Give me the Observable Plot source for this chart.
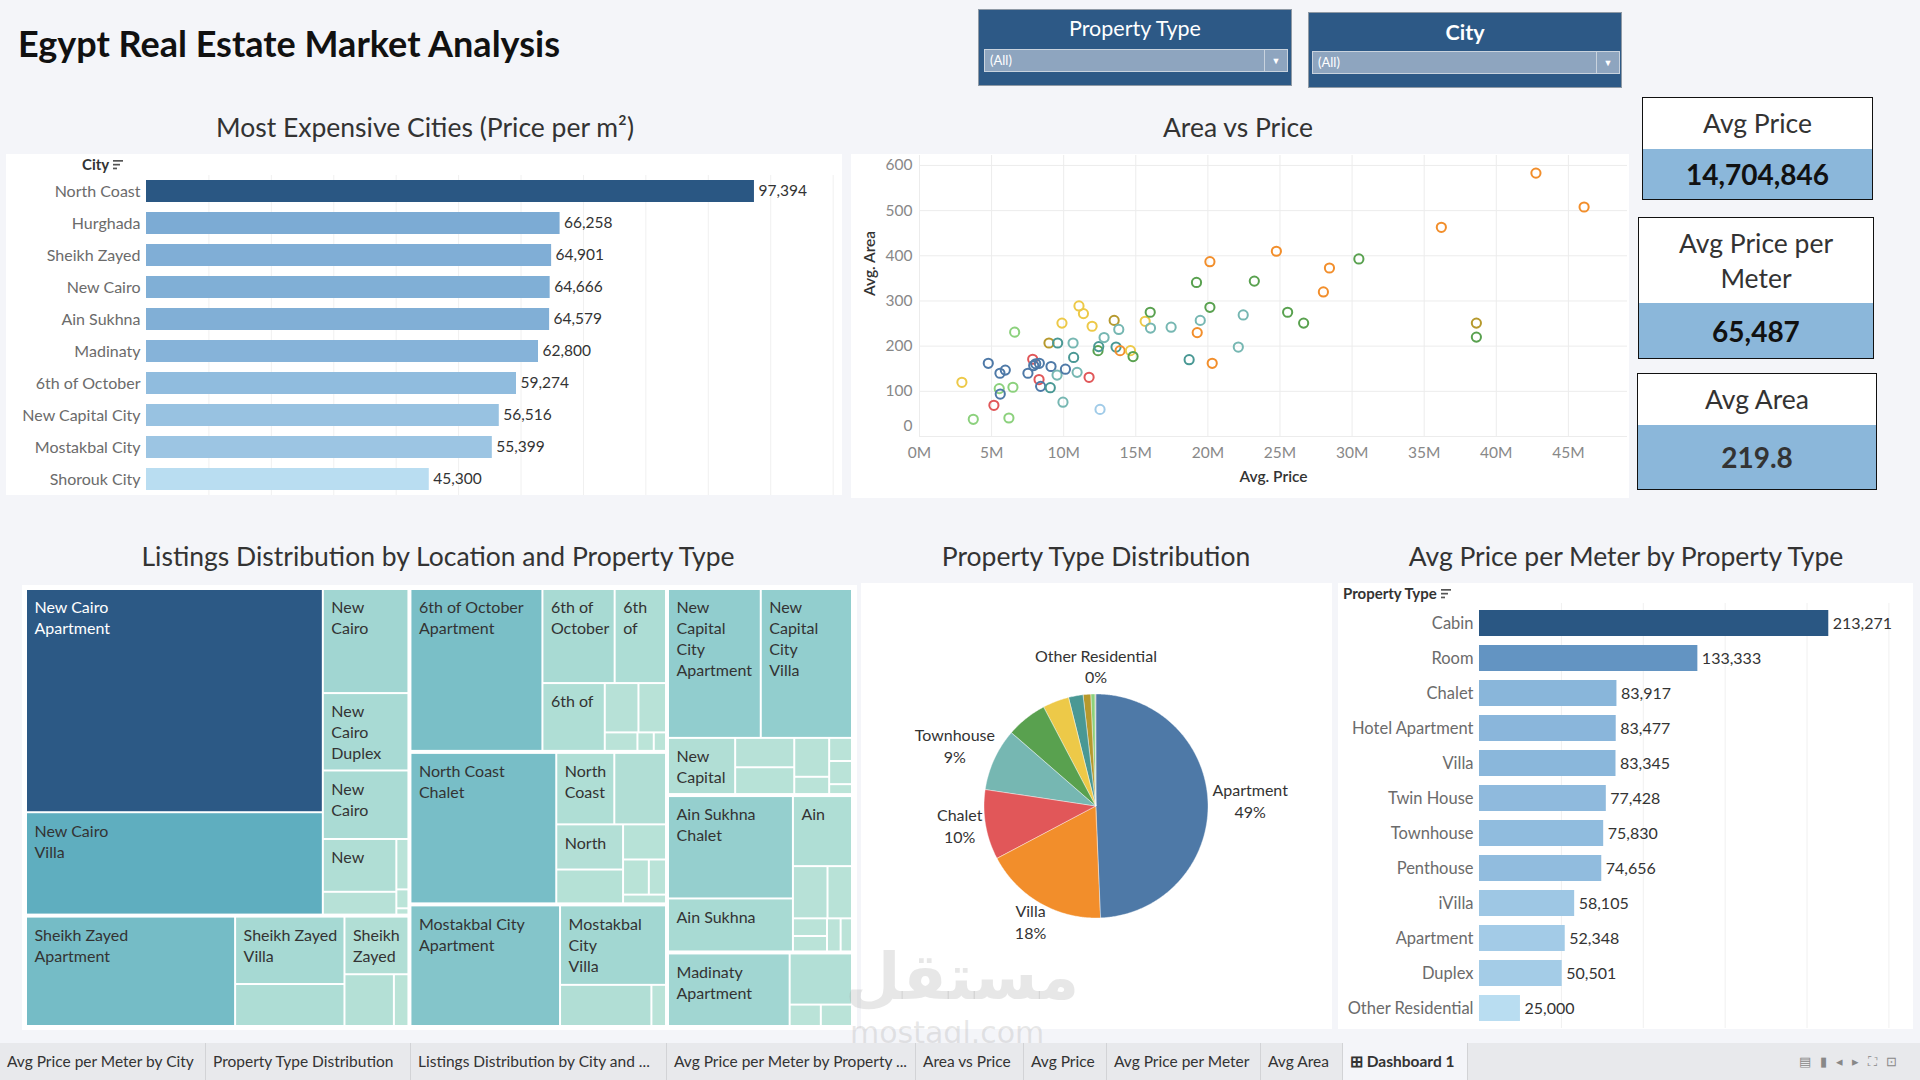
<!DOCTYPE html>
<html>
<head>
<meta charset="utf-8">
<script src="https://cdn.jsdelivr.net/npm/d3@7"></script>
<script src="https://cdn.jsdelivr.net/npm/@observablehq/plot@0.6"></script>
<style>
  html,body{margin:0;padding:0;background:#f4f5f9;}
  #root{position:relative;width:1920px;height:1080px;overflow:hidden;background:#f4f5f9;font-family:Lato,"Open Sans",sans-serif;color:#333;}
  .panel{position:absolute;background:#fff;}
  .panel svg{display:block;}
  .ptitle{position:absolute;font-size:26.5px;color:#333;white-space:nowrap;transform:translate(-50%,-50%);}
  .hdr{position:absolute;font-size:15px;color:#333;font-weight:700;display:flex;align-items:center;gap:4px;transform:translateY(-50%);}
  .filter{position:absolute;background:#2d5986;border:1px solid #8f9aa6;box-sizing:border-box;}
  .filter .ft{position:absolute;left:0;right:0;text-align:center;color:#fff;font-size:21.5px;transform:translateY(-50%);}
  .filter .dd{position:absolute;background:#8ea5bf;border:1px solid #c9d3de;box-sizing:border-box;color:#fff;font-size:13px;line-height:21px;padding-left:5px;}
  .filter .arr{position:absolute;right:0;top:0;bottom:0;width:22px;border-left:1px solid #c9d3de;text-align:center;font-size:9px;line-height:21px;}
  .kpi{position:absolute;border:1.5px solid #111;box-sizing:border-box;background:#fff;display:flex;flex-direction:column;}
  .kpi .kh{display:flex;align-items:center;justify-content:center;text-align:center;font-size:26.5px;color:#333;line-height:35px;}
  .kpi .kh span{max-width:190px;}
  .kpi .kv{display:flex;align-items:center;justify-content:center;background:#8bb7da;font-size:28px;font-weight:700;color:#111;flex:1;}
  .tabs{position:absolute;left:0;top:1043px;width:1920px;height:37px;background:#e8e9ec;display:flex;}
  .tab{height:37px;line-height:37px;font-size:15.5px;color:#333;padding-left:7px;box-sizing:border-box;border-right:1px solid #d2d3d6;white-space:nowrap;overflow:hidden;}
  .tab.active{background:#f4f5f9;font-weight:700;}
</style>
</head>
<body>
<div id="root"></div>
<script>
// ---------------- DATA ----------------
const cities = ["North Coast","Hurghada","Sheikh Zayed","New Cairo","Ain Sukhna","Madinaty","6th of October","New Capital City","Mostakbal City","Shorouk City"];
const cityPricePerM2 = [97394,66258,64901,64666,64579,62800,59274,56516,55399,45300];

const propTypes = ["Cabin","Room","Chalet","Hotel Apartment","Villa","Twin House","Townhouse","Penthouse","iVilla","Apartment","Duplex","Other Residential"];
const propPricePerM2 = [213271,133333,83917,83477,83345,77428,75830,74656,58105,52348,50501,25000];

const kpiLabels = ["Avg Price","Avg Price per Meter","Avg Area"];
const kpiValues = ["14,704,846","65,487","219.8"];

const typeNames  = ["Apartment","Villa","Chalet","Townhouse","Twin House","Duplex","Penthouse","iVilla","Hotel Apartment","Cabin","Room","Other Residential"];
const typeColors = ["#4e79a7","#f28e2b","#e15759","#76b7b2","#59a14f","#edc948","#499894","#b6992d","#8cd17d","#a0cbe8","#ff9d9a","#bab0ac"];

const pieTypes  = ["Apartment","Villa","Chalet","Townhouse","Twin House","Duplex","Penthouse","iVilla","Hotel Apartment","Other Residential"];
const pieShares = [49.4,17.9,10.1,9.0,5.9,3.8,2.1,1.1,0.6,0.1];
const pieLabelled = ["Apartment","Villa","Chalet","Townhouse","Other Residential"];

const scatterPriceM = [2.94,3.73,4.77,5.16,5.53,5.58,5.60,5.95,6.20,6.48,
 6.60,7.52,7.85,7.92,8.06,8.31,8.29,8.40,8.98,9.07,
 9.12,9.54,9.58,9.88,9.95,10.12,10.65,10.69,10.93,11.06,
 11.37,11.76,11.97,12.38,12.43,12.52,12.80,13.50,13.63,13.82,
 13.91,14.63,14.81,15.65,16.00,16.02,17.45,18.70,19.21,19.26,
 19.47,20.14,20.14,20.30,22.11,22.45,23.22,24.75,25.53,26.64,
 28.01,28.43,30.47,36.19,38.62,38.62,42.75,46.09];
const scatterArea = [120,38,162,69,106,140,94,147,41,109,
 231,140,171,157,161,162,126,111,207,108,
 155,136,207,251,76,149,207,175,142,289,
 272,131,244,190,199,60,219,257,198,237,
 190,190,177,255,275,240,242,170,341,230,
 257,387,286,162,198,269,344,410,275,251,
 320,373,393,463,251,220,583,508];
const scatterType = ["Duplex","Hotel Apartment","Apartment","Chalet","Hotel Apartment","Apartment","Apartment","Apartment","Hotel Apartment","Hotel Apartment",
 "Hotel Apartment","Apartment","Chalet","Apartment","Apartment","Apartment","Chalet","Apartment","iVilla","Penthouse",
 "Apartment","Townhouse","Penthouse","Duplex","Townhouse","Apartment","Townhouse","Penthouse","Townhouse","Duplex",
 "Duplex","Chalet","Duplex","Twin House","Penthouse","Cabin","Townhouse","iVilla","Penthouse","Townhouse",
 "Villa","Duplex","Twin House","Duplex","Twin House","Townhouse","Townhouse","Penthouse","Twin House","Villa",
 "Townhouse","Villa","Twin House","Villa","Townhouse","Townhouse","Twin House","Villa","Twin House","Twin House",
 "Villa","Villa","Twin House","Villa","iVilla","Twin House","Villa","Villa"];
const scatterXTicks = [0,5,10,15,20,25,30,35,40,45];
const scatterYTicks = [0,100,200,300,400,500,600];

const treeCities = ["New Cairo","Sheikh Zayed","6th of October","North Coast","Mostakbal City","New Capital City","Ain Sukhna","Madinaty"];
const treeTypes = [
  ["Apartment","Villa","Townhouse","Duplex","Penthouse","Chalet","iVilla","Twin House","Hotel Apartment","Cabin"],
  ["Apartment","Villa","Townhouse","Twin House","Duplex","Penthouse"],
  ["Apartment","Townhouse","Villa","Duplex","Penthouse","Twin House","iVilla","Chalet","Hotel Apartment"],
  ["Chalet","Villa","Townhouse","Apartment","Twin House","Duplex","Penthouse","iVilla","Cabin"],
  ["Apartment","Villa","Townhouse","Duplex"],
  ["Apartment","Villa","Duplex","Townhouse","Penthouse","Twin House","Chalet","iVilla","Hotel Apartment","Cabin"],
  ["Chalet","Apartment","Villa","Townhouse","Twin House","Duplex","Penthouse","iVilla","Cabin"],
  ["Apartment","Villa","Twin House","Duplex"]
];
const treeCounts = [
  [870,399,117,87,77,51,22,8,3,1],
  [304,98,61,49,34,10],
  [283,90,64,56,22,18,8,4,3],
  [291,55,49,40,30,20,12,8,5],
  [240,112,50,8],
  [183,180,50,23,21,18,8,7,7,3],
  [170,88,55,24,17,8,7,6,5],
  [119,43,9,9]
];
const blueTeal = ["#bce4d8","#a6d9d3","#8fcccd","#78bec7","#62b0c0","#4ca2b9","#3c91ae","#357fa0","#316c93","#2c5985"];
const blueSeq = ["#b9ddf1","#6d9fcd","#2a5783"];

const tabNames = ["Avg Price per Meter by City","Property Type Distribution","Listings Distribution by City and ...","Avg Price per Meter by Property ...","Area vs Price","Avg Price","Avg Price per Meter","Avg Area","Dashboard 1"];
const tabWidths = [206,205,256,249,108,83,154,82,125];

// ---------------- HELPERS ----------------
const root = document.getElementById("root");
const fmt = d3.format(",");
function el(tag, cls, style, html) {
  const e = document.createElement(tag);
  if (cls) e.className = cls;
  if (style) e.style.cssText = style;
  if (html !== undefined) e.innerHTML = html;
  root.appendChild(e);
  return e;
}
const sortIcon = '<svg width="11" height="11"><rect x="0" y="1" width="10" height="1.7" fill="#555"/><rect x="0" y="4.8" width="7" height="1.7" fill="#555"/><rect x="0" y="8.6" width="4" height="1.7" fill="#555"/></svg>';
const plotStyle = {fontFamily: "Lato, 'Open Sans', sans-serif", fontSize: "15.5px", background: "transparent", overflow: "visible"};

// ---------------- HEADER ----------------
el("div", null, "position:absolute;left:18px;top:43px;transform:translateY(-50%);font-size:36px;font-weight:700;color:#111;white-space:nowrap;", "Egypt Real Estate Market Analysis");

const f1 = el("div", "filter", "left:978px;top:9px;width:314px;height:77px;");
f1.innerHTML = '<div class="ft" style="top:18px;">Property Type</div><div class="dd" style="left:5px;top:39px;width:304px;height:23px;">(All)<div class="arr">&#9660;</div></div>';
const f2 = el("div", "filter", "left:1308px;top:12px;width:314px;height:76px;");
f2.innerHTML = '<div class="ft" style="top:19px;font-weight:700;">City</div><div class="dd" style="left:3px;top:38px;width:308px;height:23px;">(All)<div class="arr">&#9660;</div></div>';

const kpiBoxes = [
  {left:1642, top:97, w:231, h:103, hh:51},
  {left:1638, top:217, w:236, h:142, hh:85},
  {left:1637, top:373, w:240, h:117, hh:51}
];
kpiLabels.forEach((lab, i) => {
  const b = kpiBoxes[i];
  const k = el("div", "kpi", `left:${b.left}px;top:${b.top}px;width:${b.w}px;height:${b.h}px;`);
  k.innerHTML = `<div class="kh" style="height:${b.hh}px;"><span>${lab}</span></div><div class="kv" style="${i===2?'color:#333;':''}">${kpiValues[i]}</div>`;
});

el("div", "ptitle", "left:425px;top:127px;", "Most Expensive Cities (Price per m²)");
el("div", "ptitle", "left:1238px;top:127px;", "Area vs Price");
el("div", "ptitle", "left:438px;top:556px;", "Listings Distribution by Location and Property Type");
el("div", "ptitle", "left:1096px;top:556px;", "Property Type Distribution");
el("div", "ptitle", "left:1626px;top:556px;", "Avg Price per Meter by Property Type");

// ---------------- CHART 1: city bars ----------------
const p1 = el("div", "panel", "left:6px;top:154px;width:836px;height:341px;");
const cityData = cities.map((c, i) => ({city: c, v: cityPricePerM2[i]}));
p1.appendChild(Plot.plot({
  width: 836, height: 341, marginLeft: 140, marginRight: 0, marginTop: 21, marginBottom: 0,
  style: plotStyle,
  x: {domain: [0, 111500], axis: null},
  y: {domain: cities, paddingInner: 0.3, paddingOuter: 0.15, axis: null},
  color: {type: "linear", domain: [d3.min(cityPricePerM2), d3.max(cityPricePerM2)], range: blueSeq},
  marks: [
    Plot.ruleX(d3.range(10000, 111000, 10000), {stroke: "#f0f0f0"}),
    Plot.barX(cityData, {x: "v", y: "city", fill: "v"}),
    Plot.text(cityData, {x: "v", y: "city", text: d => fmt(d.v), textAnchor: "start", dx: 4, fill: "#333"}),
    Plot.axisY({tickSize: 0, tickPadding: 6, fill: "#6b6b6b", label: null, fontSize: 16})
  ]
}));
el("div", "hdr", "left:82px;top:164px;", "City" + sortIcon);

// ---------------- CHART 2: scatter ----------------
const p2 = el("div", "panel", "left:851px;top:154px;width:778px;height:344px;");
const scatterData = scatterPriceM.map((p, i) => ({price: p, area: scatterArea[i], type: scatterType[i]}));
p2.appendChild(Plot.plot({
  width: 778, height: 344, marginLeft: 68, marginRight: 2, marginTop: 1, marginBottom: 62,
  style: plotStyle,
  x: {domain: [0, 49.1], axis: null},
  y: {domain: [0, 622], axis: null},
  color: {domain: typeNames, range: typeColors},
  marks: [
    Plot.ruleX(scatterXTicks, {stroke: "#ececec"}),
    Plot.ruleY(scatterYTicks, {stroke: "#ececec"}),
    Plot.dot(scatterData, {x: "price", y: "area", stroke: "type", r: 4.6, strokeWidth: 2, fill: "none"}),
    Plot.axisX({ticks: scatterXTicks, tickFormat: d => `${d}M`, tickSize: 0, tickPadding: 10, fill: "#888", label: null}),
    Plot.axisY({ticks: scatterYTicks.slice(1), tickSize: 0, tickPadding: 7, fill: "#888", label: null}),
    Plot.axisY({ticks: [0], tickSize: 0, tickPadding: 7, dy: -10, fill: "#888", label: null}),
    Plot.text(["Avg. Price"], {text: d => d, frameAnchor: "bottom", dy: 45, fill: "#333", fontWeight: 600}),
    Plot.text(["Avg. Area"], {text: d => d, frameAnchor: "left", dx: -49, rotate: -90, fill: "#333", fontWeight: 600})
  ]
}));

// ---------------- CHART 3: treemap ----------------
const p3 = el("div", "panel", "left:22px;top:585px;width:835px;height:445px;");
const TW = 824, TH = 435;
const tmRoot = d3.hierarchy({children: treeCities.map((c, i) => ({name: c, children: treeTypes[i].map((t, j) => ({city: c, type: t, value: treeCounts[i][j]}))}))})
  .sum(d => d.value || 0);
d3.treemap().tile(d3.treemapSquarify).size([TW, TH]).paddingInner(n => n.depth === 0 ? 4 : 2)(tmRoot);
const ctx = document.createElement("canvas").getContext("2d");
ctx.font = "16px Lato";
function wrapWords(words, maxW, lines) {
  let cur = "";
  for (const w of words) {
    const test = cur ? cur + " " + w : w;
    if (ctx.measureText(test).width <= maxW) { cur = test; continue; }
    if (cur) lines.push(cur);
    if (ctx.measureText(w).width <= maxW) cur = w; else return false;
  }
  if (cur) lines.push(cur);
  return true;
}
const leaves = tmRoot.leaves().map(n => {
  const w = n.x1 - n.x0, h = n.y1 - n.y0;
  const lines = [];
  if (wrapWords(n.data.city.split(" "), w - 11, lines)) wrapWords(n.data.type.split(" "), w - 11, lines);
  const maxLines = h < 40 ? 0 : Math.floor((h - 12) / 21);
  return {...n.data, x0: n.x0, x1: n.x1, y0: n.y0, y1: n.y1, label: lines.slice(0, maxLines).join("\n")};
});
const maxCount = d3.max(leaves, d => d.value);
const tmPlot = Plot.plot({
  width: TW, height: TH, margin: 0,
  style: plotStyle,
  x: {domain: [0, TW], range: [0, TW], axis: null},
  y: {domain: [0, TH], range: [0, TH], axis: null},
  color: {type: "linear", domain: [0, maxCount], interpolate: d3.piecewise(d3.interpolateRgb, blueTeal)},
  marks: [
    Plot.rect(leaves, {x1: "x0", x2: "x1", y1: "y0", y2: "y1", fill: "value"}),
    Plot.text(leaves.filter(d => d.label && d.value > 0.6 * maxCount), {x: d => d.x0 + 7, y: d => d.y0 + 8, text: "label", textAnchor: "start", lineAnchor: "top", lineHeight: 1.31, fontSize: 16, fill: "#fff"}),
    Plot.text(leaves.filter(d => d.label && d.value <= 0.6 * maxCount), {x: d => d.x0 + 7, y: d => d.y0 + 8, text: "label", textAnchor: "start", lineAnchor: "top", lineHeight: 1.31, fontSize: 16, fill: "#333"})
  ]
});
tmPlot.style.position = "absolute"; tmPlot.style.left = "5px"; tmPlot.style.top = "5px";
p3.appendChild(tmPlot);

// ---------------- CHART 4: pie ----------------
const p4 = el("div", "panel", "left:861px;top:583px;width:471px;height:446px;");
const PW = 471, PH = 446, cx = 235, cy = 223, R = 112;
const pieData = pieTypes.map((t, i) => ({type: t, share: pieShares[i]}));
const total = d3.sum(pieShares);
const arcs = d3.pie().sort(null).value(d => d.share)(pieData);
const slicePts = [];
arcs.forEach(a => {
  const n = Math.max(2, Math.ceil((a.endAngle - a.startAngle) / 0.01));
  for (let k = 0; k <= n; k++) {
    const t = a.startAngle + (a.endAngle - a.startAngle) * k / n;
    slicePts.push({type: a.data.type, cx, cy, px: cx + R * Math.sin(t), py: cy - R * Math.cos(t)});
  }
});
ctx.font = "16px Lato";
const pieLabels = arcs.filter(a => pieLabelled.includes(a.data.type)).map(a => {
  const m = (a.startAngle + a.endAngle) / 2;
  const dx = Math.sin(m), dy = -Math.cos(m);
  const pct = Math.round(a.data.share / total * 100) + "%";
  const w = Math.max(ctx.measureText(a.data.type).width, ctx.measureText(pct).width);
  return {x: cx + dx * (R + 4) + dx * w / 2, y: cy + dy * (R + 4) + dy * 21 - 4, text: a.data.type + "\n" + pct};
});
p4.appendChild(Plot.plot({
  width: PW, height: PH, margin: 0,
  style: plotStyle,
  x: {domain: [0, PW], range: [0, PW], axis: null},
  y: {domain: [0, PH], range: [0, PH], axis: null},
  color: {domain: typeNames, range: typeColors},
  marks: [
    Plot.area(slicePts, {x1: "cx", y1: "cy", x2: "px", y2: "py", z: "type", fill: "type", stroke: "#fff", strokeWidth: 0.4}),
    Plot.text(pieLabels, {x: "x", y: "y", text: "text", lineAnchor: "middle", lineHeight: 1.35, fill: "#333", fontSize: 16})
  ]
}));

// ---------------- CHART 5: property type bars ----------------
const p5 = el("div", "panel", "left:1338px;top:583px;width:575px;height:446px;");
const propData = propTypes.map((t, i) => ({type: t, v: propPricePerM2[i]}));
p5.appendChild(Plot.plot({
  width: 575, height: 446, marginLeft: 141, marginRight: 0, marginTop: 20, marginBottom: 1,
  style: plotStyle,
  x: {domain: [0, 265000], axis: null},
  y: {domain: propTypes, paddingInner: 0.25, paddingOuter: 0.125, axis: null},
  color: {type: "linear", domain: [d3.min(propPricePerM2), d3.max(propPricePerM2)], range: blueSeq},
  marks: [
    Plot.ruleX(d3.range(50000, 260000, 50000), {stroke: "#f0f0f0"}),
    Plot.barX(propData, {x: "v", y: "type", fill: "v"}),
    Plot.text(propData, {x: "v", y: "type", text: d => fmt(d.v), textAnchor: "start", dx: 4, fill: "#333", fontSize: 16}),
    Plot.axisY({tickSize: 0, tickPadding: 6, fill: "#6b6b6b", label: null, fontSize: 16.5})
  ]
}));
el("div", "hdr", "left:1343px;top:593px;", "Property Type" + sortIcon);

// ---------------- watermark ----------------
el("div", null, "position:absolute;left:845px;top:945px;font-family:'DejaVu Sans',sans-serif;font-size:64px;font-weight:700;color:rgba(170,170,170,0.28);pointer-events:none;line-height:1;", "مستقل");
el("div", null, "position:absolute;left:850px;top:1018px;font-family:'DejaVu Sans',sans-serif;font-size:30px;color:rgba(170,170,170,0.28);pointer-events:none;line-height:1;", "mostaql.com");

// ---------------- tabs ----------------
const tabs = el("div", "tabs");
tabNames.forEach((t, i) => {
  const d = document.createElement("div");
  d.className = "tab" + (i === tabNames.length - 1 ? " active" : "");
  d.style.width = tabWidths[i] + "px";
  d.textContent = (i === tabNames.length - 1 ? "⊞ " : "") + t;
  tabs.appendChild(d);
});
const icons = document.createElement("div");
icons.style.cssText = "position:absolute;right:14px;top:0;height:37px;line-height:37px;font-size:13px;color:#888;letter-spacing:9px;";
icons.textContent = "▤▮◂▸⛶⊡";
tabs.appendChild(icons);
</script>
</body>
</html>
